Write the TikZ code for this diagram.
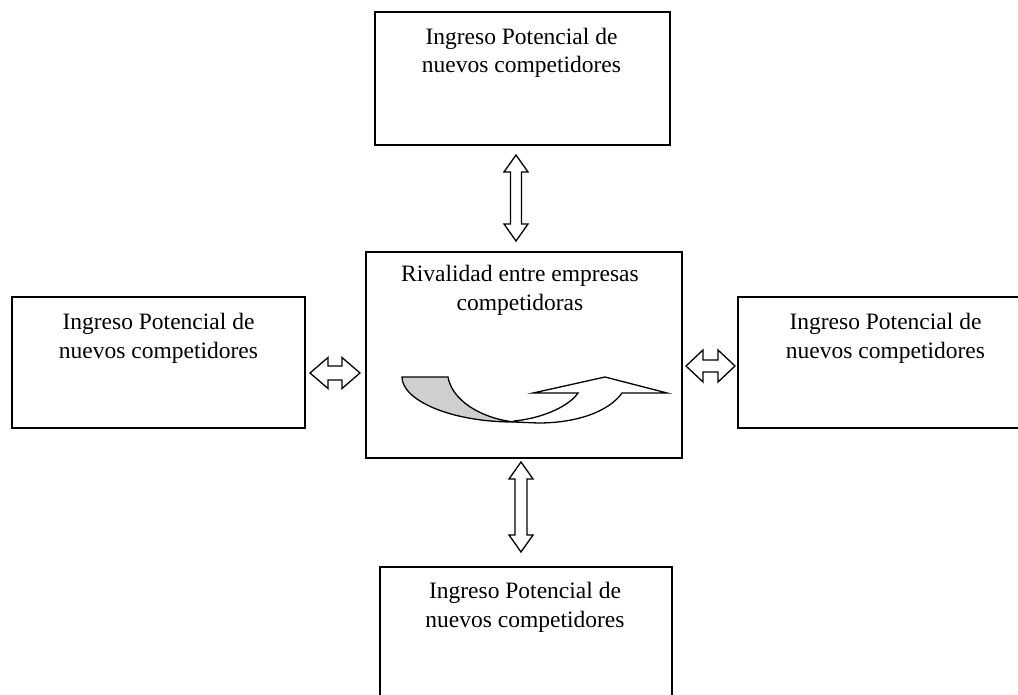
\documentclass[tikz,border=0pt]{standalone}
\usepackage{fontspec}
\setmainfont{Liberation Serif}
\newcommand{\vdblarrow}[6]{% x, y1, y2, shaft half, head half, head length
  \draw[blockarrow] ({#1-#4},{#2+#6}) -- ({#1-#5},{#2+#6}) -- (#1,#2) -- ({#1+#5},{#2+#6}) -- ({#1+#4},{#2+#6})
   -- ({#1+#4},{#3-#6}) -- ({#1+#5},{#3-#6}) -- (#1,#3) -- ({#1-#5},{#3-#6}) -- ({#1-#4},{#3-#6}) -- cycle;}
\newcommand{\hdblarrow}[6]{% y, x1, x2, shaft half, head half, head length
  \draw[blockarrow] ({#2+#6},{#1-#4}) -- ({#2+#6},{#1-#5}) -- (#2,#1) -- ({#2+#6},{#1+#5}) -- ({#2+#6},{#1+#4})
   -- ({#3-#6},{#1+#4}) -- ({#3-#6},{#1+#5}) -- (#3,#1) -- ({#3-#6},{#1-#5}) -- ({#3-#6},{#1-#4}) -- cycle;}
\begin{document}
\begin{tikzpicture}[x=1pt,y=-1pt,
  box/.style={draw=black,line width=1.6pt,rectangle,inner sep=0pt},
  lbl/.style={anchor=base,inner sep=0pt,font=\fontsize{23.5}{28}\selectfont},
  blockarrow/.style={draw=black,line width=1.3pt,fill=white,line join=miter},
  curve/.style={draw=black,line width=1.3pt}]
\useasboundingbox (0,0) rectangle (1018,695);
\clip (0,0) rectangle (1018,695);
\fill[white] (0,0) rectangle (1018,695);
% boxes
\node[box,minimum width=295pt,minimum height=133pt] (top) at (522.5,78.5) {};
\node[box,minimum width=293pt,minimum height=131pt] (left) at (158.5,362.5) {};
\node[box,minimum width=316pt,minimum height=206pt] (center) at (524,355) {};
\node[box,minimum width=295pt,minimum height=131pt] (right) at (885.5,362.5) {};
\node[box,minimum width=292pt,minimum height=133pt] (bottom) at (526,633.5) {};
% texts
\node[lbl] (top1) at (521.5,45) {Ingreso Potencial de};
\node[lbl] (top2) at (521.5,73) {nuevos competidores};
\node[lbl] (left1) at (158.5,330) {Ingreso Potencial de};
\node[lbl] (left2) at (158.5,358) {nuevos competidores};
\node[lbl] (right1) at (885.5,330) {Ingreso Potencial de};
\node[lbl] (right2) at (885.5,358) {nuevos competidores};
\node[lbl] (bot1) at (525,598) {Ingreso Potencial de};
\node[lbl] (bot2) at (525,627) {nuevos competidores};
\node[lbl] (cen1) at (520,282) {Rivalidad entre empresas};
\node[lbl] (cen2) at (520,311) {competidoras};
% double block arrows
\vdblarrow{516}{155}{241}{5.5}{12}{17}
\vdblarrow{521}{462}{552}{6}{12}{17}
\hdblarrow{373}{310}{360}{7}{15.5}{18}
\hdblarrow{366}{686}{735}{6}{16}{17}
% curved arrows in the centre box
\draw[curve,fill=black!19] (402,377) -- (448,377)
  .. controls (452,400) and (480,418) .. (514,422)
  .. controls (450,422) and (402,400) .. (402,377) -- cycle;
\draw[curve,fill=white,line join=miter] (514,421)
  .. controls (545,418) and (570,405) .. (578,393)
  -- (533,393) -- (605,377) -- (667,393) -- (622,393)
  .. controls (610,410) and (580,423) .. (538,423)
  -- (514,422) -- cycle;
\end{tikzpicture}
\end{document}
